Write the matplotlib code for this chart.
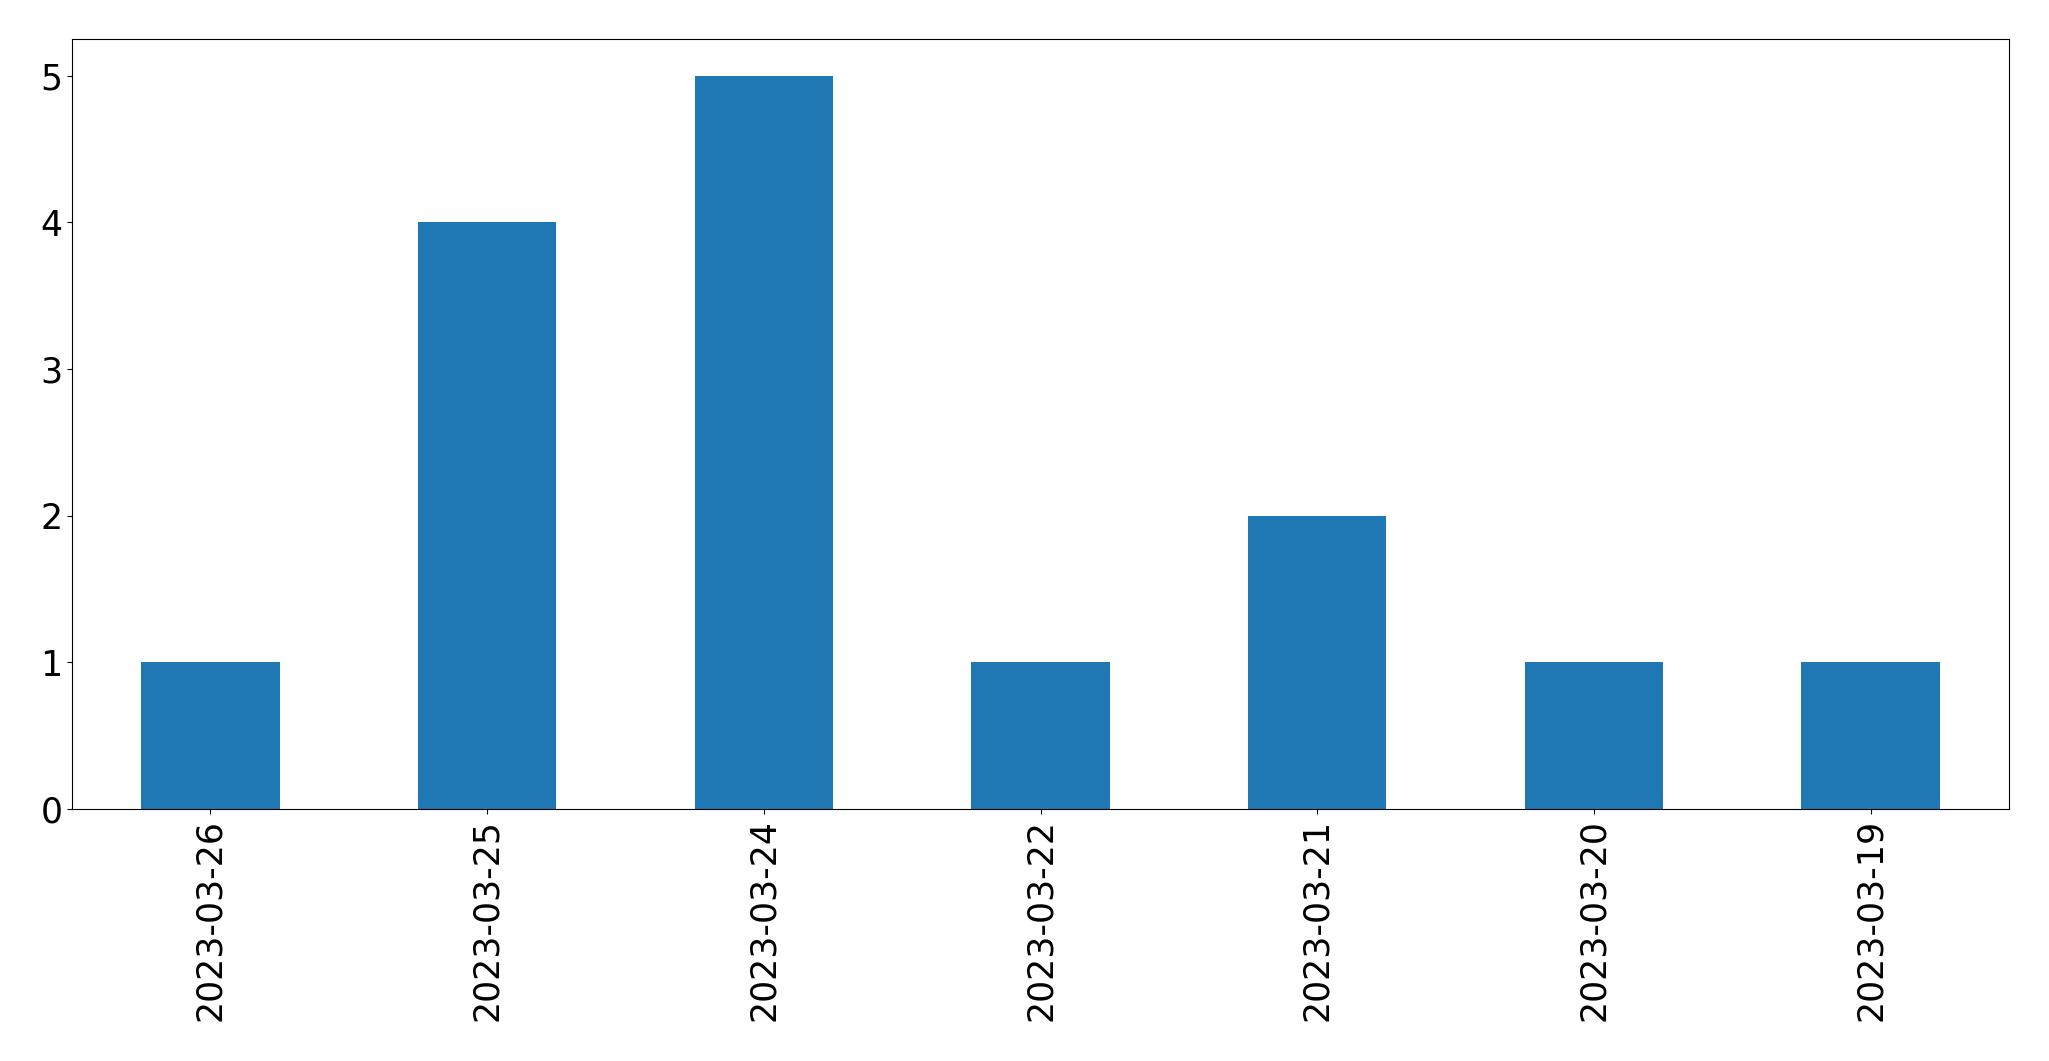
import pandas as pd
from matplotlib import pyplot as plt

dates = ['2023-03-26', '2023-03-25', '2023-03-24', '2023-03-22',
         '2023-03-21', '2023-03-20', '2023-03-19']
counts = [1, 4, 5, 1, 2, 1, 1]

s = pd.Series(counts, index=dates)

fig = plt.figure(figsize=(20.49, 10.61), dpi=100)
ax = fig.add_axes([72 / 2049, 1 - 809 / 1061, (2009 - 72) / 2049, (809 - 39) / 1061])
s.plot(kind='bar', ax=ax, color='#1f77b4')
ax.tick_params(axis='both', labelsize=25)
ax.set_ylim(0, 5.25)
fig.savefig('out.png', dpi=100)
